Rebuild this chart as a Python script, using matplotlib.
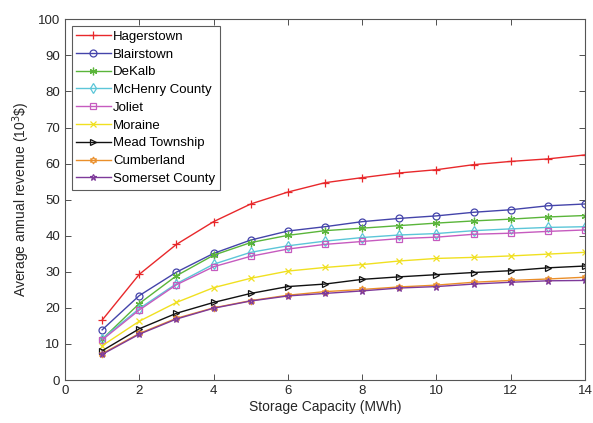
import matplotlib
matplotlib.use("Agg")
import matplotlib.pyplot as plt

plt.rcParams['font.family'] = ['Liberation Sans', 'DejaVu Sans']

capacity = list(range(1, 15))

hagerstown = [16.6, 29.3, 37.6, 43.9, 48.8, 52.1, 54.7, 56.1, 57.4, 58.3, 59.7, 60.6, 61.3, 62.4]
blairstown = [13.9, 23.4, 29.9, 35.1, 38.8, 41.3, 42.5, 43.9, 44.8, 45.5, 46.5, 47.2, 48.3, 48.8]
dekalb = [11.3, 21.2, 28.9, 34.6, 38.1, 40.1, 41.4, 42.1, 42.8, 43.5, 44.1, 44.6, 45.2, 45.6]
mchenry = [11.4, 19.8, 26.7, 32.1, 35.4, 37.2, 38.5, 39.5, 40.2, 40.6, 41.4, 41.9, 42.3, 42.5]
joliet = [11.1, 19.4, 26.4, 31.4, 34.3, 36.3, 37.6, 38.4, 39.2, 39.6, 40.4, 40.7, 41.2, 41.6]
moraine = [9.5, 16.3, 21.5, 25.6, 28.2, 30.2, 31.2, 32.0, 33.0, 33.7, 34.0, 34.4, 34.9, 35.4]
mead = [8.1, 14.2, 18.5, 21.5, 24.0, 25.9, 26.6, 27.9, 28.6, 29.2, 29.8, 30.3, 31.1, 31.6]
cumberland = [7.3, 12.9, 17.1, 20.0, 22.0, 23.5, 24.5, 25.1, 25.8, 26.3, 27.1, 27.6, 28.0, 28.5]
somerset = [7.1, 12.7, 16.9, 19.9, 21.9, 23.3, 24.0, 24.7, 25.5, 25.9, 26.6, 27.1, 27.5, 27.6]

names = ["Hagerstown", "Blairstown", "DeKalb", "McHenry County", "Joliet",
         "Moraine", "Mead Township", "Cumberland", "Somerset County"]
series = [hagerstown, blairstown, dekalb, mchenry, joliet, moraine, mead, cumberland, somerset]
colors = ["#e8282b", "#4444aa", "#5ab53a", "#5cc6d8", "#c65bbf",
          "#f0e020", "#111111", "#ea8f2a", "#7e3a9a"]
markers = ["+", "o", (6, 2, 0), "d", "s", "x", ">", (6, 1, 0), "*"]
msizes = [5.5, 5, 5.5, 5, 4.5, 5, 5, 5, 5]

fig = plt.figure(figsize=(5.93, 4.23), dpi=100)
ax = fig.add_axes([65/593, 43/423, 520/593, 360.7/423])

for vals, name, c, m, ms in zip(series, names, colors, markers, msizes):
    ax.plot(capacity, vals, color=c, marker=m, markersize=ms, linewidth=1.0,
            markerfacecolor='none', markeredgecolor=c, markeredgewidth=0.9, label=name)

ax.set_xlim(0, 14)
ax.set_ylim(0, 100)
ax.set_xticks(range(0, 15, 2))
ax.set_yticks(range(0, 101, 10))
ax.tick_params(direction='in', top=True, right=True, labelsize=9.5,
               colors='#333333', length=4, width=0.6)
for lab in ax.get_xticklabels() + ax.get_yticklabels():
    lab.set_color('#262626')
for s in ax.spines.values():
    s.set_color('#555555')
    s.set_linewidth(0.8)

ax.set_xlabel("Storage Capacity (MWh)", fontsize=10, color='#262626', labelpad=2)
ax.set_ylabel("Average annual revenue (10$^3$\\$)", fontsize=10, color='#262626', labelpad=4)

leg = ax.legend(loc='upper left', fontsize=9.5, frameon=True, fancybox=False,
                borderpad=0.35, labelspacing=0.42, handlelength=2.6, handletextpad=0.2,
                borderaxespad=0.5)
leg.get_frame().set_edgecolor('#333333')
leg.get_frame().set_linewidth(0.8)

fig.savefig("out.png", dpi=100)
